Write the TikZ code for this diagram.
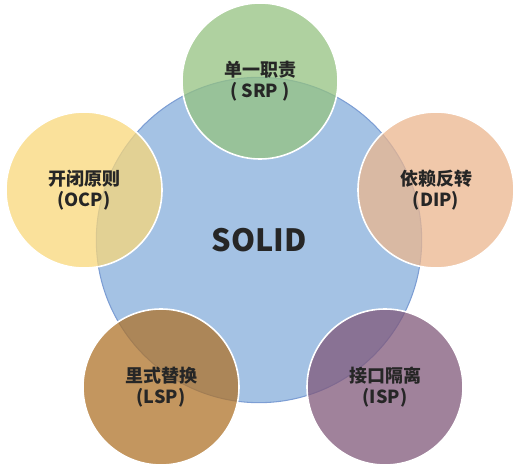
\documentclass[tikz,border=0pt]{standalone}
\usepackage{fontspec}
\newfontfamily\cjk{Noto Sans CJK SC}

\definecolor{solidblue}{RGB}{164,194,228}
\definecolor{solidedge}{RGB}{125,158,212}
\definecolor{srpgreen}{RGB}{148,194,128}
\definecolor{dippeach}{RGB}{235,182,142}
\definecolor{ocpyellow}{RGB}{248,215,122}
\definecolor{lspbrown}{RGB}{175,115,42}
\definecolor{isppurple}{RGB}{128,88,122}

\begin{document}
\begin{tikzpicture}[x=0.75pt,y=-0.75pt,
    core/.style={circle, minimum size=244pt, inner sep=0pt, fill=solidblue, draw=solidedge, line width=0.8pt},
    principle/.style={circle, minimum size=117pt, inner sep=0pt, draw=white, line width=1.2pt,
      fill opacity=0.75, text opacity=1, align=center,
      font=\cjk\bfseries\fontsize{13.5}{16}\selectfont, text=black!85}]
  \useasboundingbox (0,0) rectangle (518,467);

  \node [core, font=\cjk\bfseries\fontsize{23}{26}\selectfont, text=black!85] (solid) at (259,240) {SOLID};

  \node [principle, fill=srpgreen] (srp) at (260,81) {单一职责\\( SRP )};
  \node [principle, fill=dippeach] (dip) at (436,190) {依赖反转\\(DIP)};
  \node [principle, fill=ocpyellow] (ocp) at (84,190) {开闭原则\\(OCP)};
  \node [principle, fill=lspbrown] (lsp) at (161,387) {里式替换\\(LSP)};
  \node [principle, fill=isppurple] (isp) at (385,387) {接口隔离\\(ISP)};
\end{tikzpicture}
\end{document}
